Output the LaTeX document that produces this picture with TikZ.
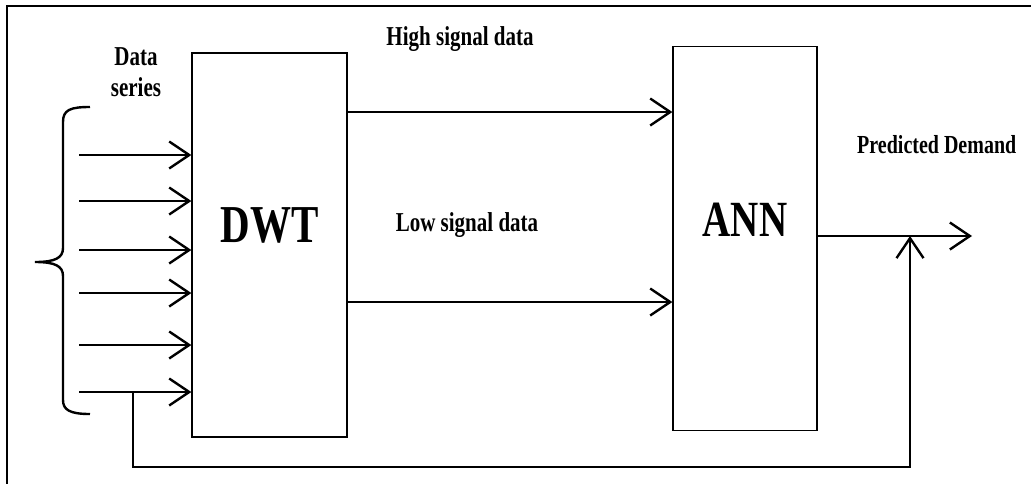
\documentclass[tikz,border=0pt]{standalone}
\usepackage{fontspec}
\setmainfont{Liberation Serif}
\usepackage{graphicx}
\usetikzlibrary{arrows.meta, positioning}
\newcommand{\tall}[1]{\scalebox{1}[1.3]{#1}}

\begin{document}
\begin{tikzpicture}[x=1pt, y=-1pt,
  block/.style={draw, line width=1.3pt, minimum width=#1, minimum height=384pt, inner sep=0pt},
  sig/.style={line width=2.4pt, -{Straight Barb[length=20pt, width=27pt]}},
  lbl/.style={font=\bfseries\fontsize{21}{24}\selectfont, inner sep=0pt}]
  \useasboundingbox (0,0) rectangle (1031,483);
  \clip (0,0) rectangle (1031,483);
  \draw[line width=2pt] (7,495) -- (7,6) -- (1045,6);

  % blocks
  \node[block=155pt, label={[yshift=20pt, font=\bfseries\fontsize{41}{41}\selectfont]center:\tall{DWT}}] (DWT) at (269.5,245) {};
  \node[block=144pt, label={[yshift=18.5pt, font=\bfseries\fontsize{39}{39}\selectfont]center:\tall{ANN}}] (ANN) at (745,238.5) {};

  % labels
  \node[lbl] (series) at (136,75) {\tall{\begin{tabular}{@{}c@{}}Data\\series\end{tabular}}};
  \node[lbl] (high) at (460,39) {\tall{High signal data}};
  \node[lbl] (low) at (467,225) {\tall{Low signal data}};
  \node[lbl, font=\bfseries\fontsize{20}{22}\selectfont, anchor=west] (pred) at (857,145) {\tall{Predicted Demand}};

  % input series
  \draw[line width=2.4pt] (90,107) .. controls (70,107) and (63,110) .. (63,122) -- (63,248)
    .. controls (63,258) and (55,262) .. (35,262) .. controls (55,262) and (63,266) .. (63,276)
    -- (63,400) .. controls (63,410) and (70,414) .. (90,414);
  \foreach \y [count=\i] in {155,201,250,293,345,392} {
    \coordinate (in\i) at (79,\y);
    \draw[sig] (in\i) -- (in\i -| DWT.west);
  }

  % DWT -> ANN
  \coordinate (hi) at (0,112);
  \coordinate (lo) at (0,302);
  \draw[sig] (DWT.east |- hi) -- (ANN.west |- hi);
  \draw[sig] (DWT.east |- lo) -- (ANN.west |- lo);

  % output and feedback
  \coordinate (out) at (972,236);
  \coordinate (join) at (910,236);
  \coordinate (tap) at (133,392);
  \draw[sig] (ANN.east |- out) -- (out);
  \draw[sig] (tap) -- ++(0,75) -| (join);
\end{tikzpicture}
\end{document}
